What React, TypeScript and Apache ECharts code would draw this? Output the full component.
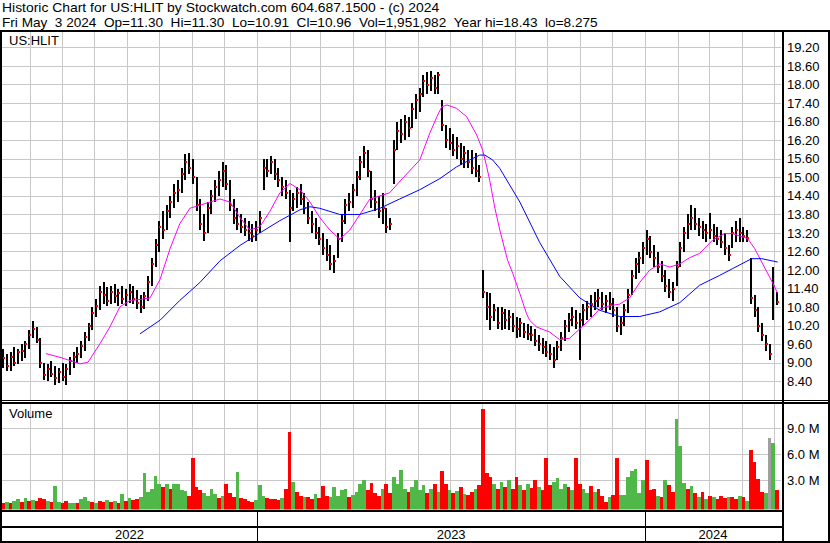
import React, { useEffect, useRef } from "react";
import * as echarts from "echarts";

const FONT = '"Liberation Sans", Arial, Helvetica, sans-serif';
const DAY = 86400000;
const AXIS_START = Date.UTC(2022, 4, 6);
const AXIS_END = AXIS_START + 732.8 * DAY;
const FIRST_BAR_OFFSET_DAYS = 1;
const BAR_STEP_DAYS = 3.5;

const titleLine1 = "Historic Chart for US:HLIT by Stockwatch.com 604.687.1500 - (c) 2024";
const titleLine2 = "Fri May  3 2024  Op=11.30  Hi=11.30  Lo=10.91  Cl=10.96  Vol=1,951,982  Year hi=18.43  lo=8.275";
const symbolLabel = "US:HLIT";
const volumeLabel = "Volume";

// price bars (high / low / close), sampled every ~3.5 calendar days
const highs = [
  9.45, 9.3, 9.35, 9.5, 9.45, 9.6, 9.7, 10.05, 10.35, 10.15,
  9.8, 9.0, 8.95, 9.05, 8.9, 8.85, 9.0, 8.95, 9.2, 9.35,
  9.5, 9.7, 10.0, 10.3, 10.8, 11.05, 11.5, 11.6, 11.45, 11.5,
  11.55, 11.4, 11.5, 11.4, 11.55, 11.5, 11.35, 11.2, 11.3, 11.8,
  12.4, 13.0, 13.6, 13.9, 14.1, 14.4, 14.8, 14.9, 15.3, 15.75,
  15.8, 15.6, 15.0, 14.3, 13.8, 14.2, 14.6, 14.9, 15.2, 15.5,
  15.4, 14.9, 14.3, 14.0, 13.8, 13.7, 13.6, 13.5, 13.6, 13.9,
  15.6, 15.6, 15.7, 15.6, 15.3, 15.0, 14.9, 14.6, 14.5, 14.7,
  14.8, 14.5, 14.2, 13.9, 13.7, 13.4, 13.2, 13.0, 12.8, 12.5,
  13.2, 13.8, 14.3, 14.5, 14.8, 15.2, 15.7, 16.0, 15.9, 15.2,
  14.6, 14.4, 14.5, 14.0, 13.7, 16.2, 16.8, 16.9, 17.0, 16.95,
  17.4, 17.7, 17.9, 18.3, 18.4, 18.43, 18.3, 18.4, 17.5, 16.7,
  16.6, 16.4, 16.3, 16.1, 16.0, 15.9, 15.9, 15.8, 15.4, 12.0,
  11.3, 11.25, 10.9, 10.8, 10.8, 10.75, 10.7, 10.6, 10.5, 10.45,
  10.3, 10.25, 10.2, 10.1, 9.9, 9.8, 9.7, 9.6, 9.5, 9.7,
  10.0, 10.4, 10.6, 10.8, 10.7, 10.6, 10.9, 11.0, 11.2, 11.3,
  11.4, 11.3, 11.2, 11.3, 11.1, 10.8, 10.5, 10.9, 11.4, 12.0,
  12.4, 12.6, 12.9, 13.3, 13.1, 12.8, 12.6, 12.3, 12.0, 11.7,
  11.6, 12.3, 12.9, 13.4, 13.8, 14.1, 14.0, 13.7, 13.6, 13.5,
  13.84, 13.5, 13.4, 13.3, 13.2, 12.8, 13.4, 13.6, 13.68, 13.4,
  13.3, 12.4, 11.2, 10.8, 10.3, 9.9, 9.6, 12.1, 11.3,
];
const lows = [
  8.85, 8.75, 8.75, 8.9, 8.95, 9.05, 9.15, 9.45, 9.8, 9.65,
  8.85, 8.45, 8.4, 8.55, 8.3, 8.35, 8.4, 8.3, 8.6, 8.85,
  9.0, 9.15, 9.4, 9.7, 10.05, 10.5, 10.7, 10.9, 10.85, 10.9,
  10.95, 10.85, 10.9, 10.85, 10.95, 10.9, 10.75, 10.6, 10.75, 11.0,
  11.5, 12.1, 12.6, 13.0, 13.3, 13.7, 14.0, 14.2, 14.5, 14.9,
  15.1, 14.8, 13.9, 13.3, 12.95, 13.2, 13.8, 14.2, 14.4, 14.7,
  14.6, 13.9, 13.5, 13.3, 13.2, 13.1, 12.95, 12.9, 12.95, 13.2,
  14.6, 15.0, 15.1, 14.9, 14.7, 14.4, 14.3, 12.9, 13.9, 14.0,
  14.1, 13.8, 13.5, 13.2, 13.0, 12.8, 12.5, 12.3, 12.0, 11.9,
  12.4, 12.9, 13.5, 13.9, 14.0, 14.4, 14.9, 15.3, 15.0, 14.0,
  13.9, 13.7, 13.5, 13.2, 13.3, 14.8, 15.9, 16.1, 16.2, 16.3,
  16.6, 16.9, 17.1, 17.6, 17.7, 17.8, 17.7, 17.7, 16.5, 15.95,
  15.9, 15.7, 15.6, 15.4, 15.3, 15.3, 15.1, 15.0, 14.85, 11.1,
  10.4, 10.05, 10.35, 10.1, 10.05, 10.1, 10.05, 10.0, 9.8, 9.85,
  9.8, 9.75, 9.7, 9.55, 9.4, 9.3, 9.2, 9.1, 8.85, 9.1,
  9.4, 9.7, 10.0, 10.2, 10.1, 9.1, 10.2, 10.4, 10.5, 10.7,
  10.8, 10.7, 10.6, 10.7, 10.5, 10.0, 9.9, 10.2, 10.6, 11.2,
  11.7, 11.9, 12.2, 12.5, 12.4, 12.1, 11.9, 11.6, 11.3, 11.1,
  11.0, 11.5, 12.1, 12.6, 13.0, 13.3, 13.3, 13.1, 13.0, 12.9,
  13.0, 12.9, 12.8, 12.7, 12.5, 12.3, 12.7, 12.9, 12.9, 12.9,
  12.9, 10.9, 10.5, 10.0, 9.7, 9.4, 9.1, 10.4, 10.86,
];
const closes = [
  9.15, 8.9, 9.2, 9.0, 9.35, 9.4, 9.6, 9.9, 10.1, 9.75,
  9.0, 8.6, 8.8, 8.65, 8.5, 8.7, 8.55, 8.8, 9.05, 9.2,
  9.3, 9.55, 9.85, 10.2, 10.6, 10.85, 11.3, 11.2, 11.0, 11.3,
  11.15, 11.25, 11.05, 11.2, 11.3, 11.05, 10.95, 10.8, 11.15, 11.6,
  12.2, 12.8, 13.4, 13.3, 13.9, 14.2, 14.5, 14.6, 15.1, 15.5,
  15.3, 15.0, 14.1, 13.5, 13.2, 14.0, 14.4, 14.7, 14.9, 15.2,
  14.8, 14.1, 13.7, 13.5, 13.4, 13.3, 13.2, 13.1, 13.3, 13.7,
  15.3, 15.2, 15.5, 15.1, 14.9, 14.7, 14.5, 14.0, 14.3, 14.5,
  14.3, 14.0, 13.7, 13.5, 13.2, 13.0, 12.7, 12.5, 12.2, 12.3,
  13.0, 13.6, 14.1, 14.2, 14.6, 15.0, 15.5, 15.8, 15.2, 14.3,
  14.2, 13.9, 14.0, 13.4, 13.5, 15.9, 16.5, 16.4, 16.8, 16.6,
  17.2, 17.5, 17.7, 18.1, 18.0, 18.2, 17.9, 18.3, 16.7, 16.2,
  16.1, 15.9, 16.0, 15.6, 15.8, 15.5, 15.3, 15.2, 15.0, 11.3,
  10.8, 10.5, 10.7, 10.3, 10.6, 10.4, 10.5, 10.2, 10.1, 10.3,
  10.0, 9.95, 9.9, 9.7, 9.6, 9.5, 9.35, 9.3, 9.1, 9.5,
  9.8, 10.2, 10.4, 10.5, 10.3, 10.4, 10.7, 10.8, 10.9, 11.0,
  11.1, 10.9, 11.0, 10.9, 10.7, 10.2, 10.3, 10.7, 11.2, 11.8,
  12.2, 12.4, 12.7, 13.0, 12.6, 12.4, 12.1, 11.8, 11.5, 11.3,
  11.4, 12.1, 12.7, 13.2, 13.5, 13.7, 13.5, 13.4, 13.3, 13.2,
  13.3, 13.1, 13.0, 12.9, 12.7, 12.5, 13.2, 13.3, 13.2, 13.1,
  13.05, 11.1, 10.7, 10.2, 9.9, 9.6, 9.3, 11.5, 10.96,
];
// volume in millions, colour: g = up, r = down, n = unchanged
const volumes = [
  0.4, 0.5, 0.3, 0.6, 0.8, 0.5, 0.9, 0.6, 0.7, 0.6,
  0.9, 0.8, 0.6, 0.5, 2.3, 0.5, 0.4, 0.6, 0.4, 0.3,
  0.4, 0.8, 1.0, 0.6, 0.5, 0.4, 0.6, 0.5, 0.7, 0.5,
  0.6, 0.4, 1.4, 0.6, 0.9, 0.7, 0.8, 1.0, 3.8, 1.6,
  2.0, 3.5, 2.6, 2.2, 2.5, 2.0, 2.6, 2.5, 1.8, 1.7,
  1.2, 5.5, 2.2, 1.9, 1.5, 1.2, 2.0, 1.4, 0.9, 1.2,
  2.5, 1.5, 1.0, 3.9, 0.9, 0.8, 0.6, 0.5, 0.7, 2.4,
  1.2, 0.9, 0.8, 0.8, 0.7, 0.9, 2.0, 8.5, 2.8, 1.6,
  1.2, 1.0, 1.0, 0.8, 1.4, 0.9, 2.3, 1.2, 1.0, 2.2,
  1.2, 1.8, 2.0, 1.0, 1.3, 1.6, 2.6, 3.0, 1.8, 2.7,
  1.5, 1.2, 2.0, 2.5, 1.5, 3.4, 2.5, 4.2, 2.0, 1.6,
  2.2, 3.0, 1.8, 2.4, 1.5, 2.0, 2.5, 1.6, 4.0, 2.5,
  1.8, 1.5, 1.7, 2.2, 1.4, 1.3, 1.6, 2.0, 2.4, 11.2,
  3.8, 3.4, 2.5, 2.0, 2.8, 2.2, 3.0, 2.0, 3.4, 2.4,
  1.8, 2.6, 2.1, 3.0, 2.2, 1.8, 5.5, 2.4, 2.8, 3.2,
  2.0, 2.6, 2.2, 1.8, 5.6, 2.5, 2.0, 1.5, 2.3, 1.6,
  2.0, 1.2, 0.5, 1.0, 1.3, 5.6, 1.3, 1.3, 3.4, 4.0,
  4.3, 1.5, 3.0, 5.3, 1.8, 2.0, 1.2, 1.0, 3.0, 2.4,
  1.6, 10.0, 6.9, 2.7, 2.0, 2.3, 1.5, 1.0, 1.6, 0.8,
  1.2, 1.0, 0.8, 1.2, 0.9, 1.0, 1.1, 0.8, 1.2, 1.0,
  0.6, 6.5, 5.1, 3.1, 1.6, 1.5, 7.9, 7.3, 1.8,
];
const volumeColors =
  "rgrggrgrgr" + "rrgrggrrgg" + "rgggrgrrgr" + "grgrgrrggg" + "gggrgrgggg" +
  "rrrrggggrg" + "rrrgrrrrgg" + "grrrrgrrgr" + "rgrrgrrrgg" + "gggrggggrr" +
  "rrgrrggggr" + "ggggrgrgrr" + "grgrgrrgrr" + "rrgrgrgrrg" + "rgrrgrrrgg" +
  "ggrgrrggrg" + "rrrgrrgggg" + "gggrrrgrgr" + "rgggrgrgrg" + "rgrrrgrrgr" +
  "grrrrgngr";

// moving averages: [bar position, price]
const fastMA: [number, number][] = [
  [11.5, 9.3], [15.3, 9.18], [20.7, 8.97], [22.8, 9.02], [26.1, 9.63], [28.7, 10.16],
  [31.4, 10.81], [34.1, 11.02], [36.8, 11.05], [39.5, 11.1], [42.2, 11.7], [44.9, 12.7],
  [47.5, 13.5], [50.2, 14.0], [52.9, 14.1], [55.6, 14.2], [58.3, 14.3], [61.0, 14.2],
  [63.7, 13.7], [66.3, 13.3], [69.0, 13.4], [71.7, 13.9], [74.4, 14.5], [77.1, 14.8],
  [79.8, 14.6], [82.5, 14.2], [85.1, 13.7], [87.8, 13.3], [90.5, 13.0], [93.2, 13.3],
  [95.9, 13.8], [98.6, 14.3], [101.3, 14.4], [103.9, 14.5], [107.4, 14.97], [112.0, 15.56],
  [114.7, 16.43], [116.6, 16.96], [117.9, 17.28], [119.3, 17.34], [121.9, 17.23], [124.6, 16.96],
  [127.3, 16.37], [128.9, 15.88], [130.0, 15.34], [130.8, 14.9], [132.2, 14.0], [133.5, 13.3],
  [135.6, 12.32], [137.0, 11.89], [138.9, 11.24], [140.7, 10.59], [141.5, 10.38], [143.4, 10.16],
  [146.9, 10.0], [149.6, 9.75], [152.3, 9.8], [155.0, 10.1], [157.7, 10.4], [160.4, 10.75],
  [163.1, 10.85], [165.7, 10.9], [168.4, 11.1], [171.1, 11.6], [173.8, 12.0], [176.5, 12.2],
  [179.2, 12.1], [181.9, 12.2], [184.5, 12.4], [187.2, 12.54], [190.7, 12.97], [193.9, 13.18],
  [196.1, 13.18], [200.1, 13.02], [202.0, 12.7], [203.9, 12.26], [206.0, 11.78], [207.4, 11.45],
  [208.2, 11.24],
];
const slowMA: [number, number][] = [
  [36.8, 9.94], [42.2, 10.38], [47.5, 11.02], [52.9, 11.6], [58.3, 12.3], [63.7, 12.8],
  [69.0, 13.2], [74.4, 13.6], [79.8, 13.95], [82.5, 14.05], [85.1, 14.0], [90.5, 13.8],
  [95.9, 13.8], [101.3, 14.0], [106.6, 14.3], [112.0, 14.6], [117.4, 14.96], [121.9, 15.34],
  [125.4, 15.56], [128.1, 15.72], [129.5, 15.72], [131.6, 15.56], [133.5, 15.29], [138.9, 14.2],
  [144.2, 12.9], [149.6, 11.8], [155.0, 11.1], [160.4, 10.7], [165.7, 10.5], [171.1, 10.5],
  [176.5, 10.65], [181.9, 10.95], [187.2, 11.51], [192.6, 11.83], [196.1, 12.05], [201.2, 12.37],
  [203.9, 12.37], [208.2, 12.26],
];

const priceAxis = { min: 7.8, max: 19.7, interval: 0.6 };
const volumeAxis = { min: -0.4, max: 11.9 };
const volumeGridValues = [3, 6, 9];
const monthStarts = [
  "2022-06", "2022-07", "2022-08", "2022-09", "2022-10", "2022-11", "2022-12",
  "2023-01", "2023-02", "2023-03", "2023-04", "2023-05", "2023-06", "2023-07",
  "2023-08", "2023-09", "2023-10", "2023-11", "2023-12", "2024-01", "2024-02",
  "2024-03", "2024-04", "2024-05",
];
const years = ["2022", "2023", "2024"];

const barTime = (i: number) => AXIS_START + (FIRST_BAR_OFFSET_DAYS + i * BAR_STEP_DAYS) * DAY;
const monthTime = (s: string) => {
  const [y, m] = s.split("-").map(Number);
  return Date.UTC(y, m - 1, 1);
};
const nb = (s: string) => s.replace(/  /g, " \u00a0");

const GREEN = "#50b848";
const RED = "#ff0000";
const GRAY = "#a0a0a0";
const GRID = "#c8c8c8";

function buildOption() {
  const ohlcData = highs.map((h, i) => [barTime(i), h, lows[i], closes[i]]);
  const volData = volumes.map((v, i) => {
    const c = volumeColors[i];
    return [barTime(i), v, c === "g" ? 1 : c === "r" ? -1 : 0];
  });
  const monthData = monthStarts.map((m) => [monthTime(m), 0]);
  const yearData = years.map((y) => [Date.UTC(+y, 0, 1), Date.UTC(+y + 1, 0, 1)]);

  const vGridRender = (params: any, api: any) => {
    const cs = params.coordSys;
    const x = Math.round(api.coord([api.value(0), 0])[0]) + 0.5;
    return {
      type: "line",
      shape: { x1: x, y1: cs.y, x2: x, y2: cs.y + cs.height },
      style: { stroke: GRID, lineWidth: 1 },
    };
  };

  const frame = (x: number, y: number, w: number, h: number) => ({
    type: "rect",
    z: 100,
    silent: true,
    shape: { x, y, width: w, height: h },
    style: { fill: "#000" },
  });
  const label = (x: number, y: number, text: string, scaleX = 1) => ({
    type: "text",
    z: 100,
    silent: true,
    x,
    y,
    scaleX,
    style: { x: 0, y: 0, text, font: `13px ${FONT}`, fill: "#000", verticalAlign: "middle", align: "left" },
  });

  return {
    animation: false,
    backgroundColor: "#ffffff",
    grid: [
      { left: 2, top: 32, width: 779, height: 368, containLabel: false, outerBoundsMode: "none" },
      { left: 2, top: 403, width: 779, height: 106.5, containLabel: false, outerBoundsMode: "none" },
      { left: 2, top: 527, width: 779, height: 14, containLabel: false, outerBoundsMode: "none" },
    ],
    xAxis: [0, 1, 2].map((g) => ({
      type: "time",
      gridIndex: g,
      min: AXIS_START,
      max: AXIS_END,
      show: false,
    })),
    yAxis: [
      {
        type: "value",
        gridIndex: 0,
        position: "right",
        min: priceAxis.min,
        max: priceAxis.max,
        interval: priceAxis.interval,
        axisLine: { show: false },
        axisTick: { show: false },
        splitLine: { show: true, showMinLine: false, showMaxLine: false, lineStyle: { color: GRID, width: 1 } },
        axisLabel: {
          margin: 6,
          color: "#000",
          fontSize: 13,
          fontFamily: FONT,
          showMinLabel: false,
          showMaxLabel: false,
          formatter: (v: number) => v.toFixed(2),
        },
      },
      {
        type: "value",
        gridIndex: 1,
        position: "right",
        min: volumeAxis.min,
        max: volumeAxis.max,
        splitNumber: 4,
        axisLine: { show: false },
        axisTick: { show: false },
        splitLine: { show: false },
        axisLabel: {
          margin: 6,
          color: "#000",
          fontSize: 13,
          fontFamily: FONT,
          showMinLabel: false,
          showMaxLabel: false,
          formatter: (v: number) =>
            volumeGridValues.some((g) => Math.abs(g - v) < 1e-6) ? `${v.toFixed(1)} M` : "",
        },
      },
      { type: "value", gridIndex: 2, min: 0, max: 1, show: false },
    ],
    series: [
      {
        type: "custom",
        xAxisIndex: 0,
        yAxisIndex: 0,
        z: 1,
        silent: true,
        encode: { x: 0, y: 1 },
        data: monthData,
        renderItem: vGridRender,
      },
      {
        type: "custom",
        xAxisIndex: 1,
        yAxisIndex: 1,
        z: 1,
        silent: true,
        encode: { x: 0, y: 1 },
        data: monthData,
        renderItem: vGridRender,
      },
      {
        type: "custom",
        xAxisIndex: 1,
        yAxisIndex: 1,
        z: 1,
        silent: true,
        encode: { x: 0, y: 1 },
        data: volumeGridValues.map((v) => [AXIS_START, v]),
        renderItem: (params: any, api: any) => {
          const cs = params.coordSys;
          const y = Math.round(api.coord([api.value(0), api.value(1)])[1]) + 0.5;
          return {
            type: "line",
            shape: { x1: cs.x, y1: y, x2: cs.x + cs.width, y2: y },
            style: { stroke: GRID, lineWidth: 1 },
          };
        },
      },
      {
        type: "custom",
        name: "price",
        xAxisIndex: 0,
        yAxisIndex: 0,
        z: 3,
        silent: true,
        encode: { x: 0, y: [1, 2, 3] },
        data: ohlcData,
        renderItem: (params: any, api: any) => {
          const t = api.value(0);
          const hi = api.coord([t, api.value(1)]);
          const lo = api.coord([t, api.value(2)]);
          const cl = api.coord([t, api.value(3)]);
          const x = Math.round(hi[0]);
          const y1 = Math.round(hi[1]);
          const y2 = Math.round(lo[1]);
          return {
            type: "group",
            children: [
              { type: "rect", shape: { x: x - 1, y: y1, width: 2, height: Math.max(1, y2 - y1) }, style: { fill: "#000" } },
              { type: "rect", shape: { x: x, y: Math.round(cl[1]) - 1, width: 2, height: 2 }, style: { fill: RED } },
            ],
          };
        },
      },
      {
        type: "line",
        name: "fast MA",
        xAxisIndex: 0,
        yAxisIndex: 0,
        z: 4,
        silent: true,
        symbol: "none",
        lineStyle: { color: "#ff00ff", width: 1 },
        data: fastMA.map(([i, v]) => [barTime(i), v]),
      },
      {
        type: "line",
        name: "slow MA",
        xAxisIndex: 0,
        yAxisIndex: 0,
        z: 4,
        silent: true,
        symbol: "none",
        lineStyle: { color: "#0000ff", width: 1 },
        data: slowMA.map(([i, v]) => [barTime(i), v]),
      },
      {
        type: "custom",
        name: "volume",
        xAxisIndex: 1,
        yAxisIndex: 1,
        z: 3,
        silent: true,
        encode: { x: 0, y: 1 },
        data: volData,
        renderItem: (params: any, api: any) => {
          const cs = params.coordSys;
          const t = api.value(0);
          const top = api.coord([t, api.value(1)]);
          const next = api.coord([t + BAR_STEP_DAYS * DAY, api.value(1)]);
          const w = next[0] - top[0];
          const x0 = Math.round(top[0] - w / 2);
          const x1 = Math.round(top[0] + w / 2);
          const bottom = cs.y + cs.height;
          const c = api.value(2);
          return {
            type: "rect",
            shape: { x: x0, y: Math.round(top[1]), width: Math.max(1, x1 - x0), height: bottom - Math.round(top[1]) },
            style: { fill: c > 0 ? GREEN : c < 0 ? RED : GRAY },
          };
        },
      },
      {
        type: "custom",
        name: "years",
        xAxisIndex: 2,
        yAxisIndex: 2,
        silent: true,
        encode: { x: 0, y: 1 },
        data: yearData,
        renderItem: (params: any, api: any) => {
          const cs = params.coordSys;
          let x0 = api.coord([api.value(0), 0])[0];
          let x1 = api.coord([api.value(1), 0])[0];
          const startsInside = x0 > cs.x + 1;
          x0 = Math.max(x0, cs.x);
          x1 = Math.min(x1, cs.x + cs.width);
          const children: any[] = [
            {
              type: "text",
              style: {
                x: (x0 + x1) / 2,
                y: cs.y + cs.height / 2,
                text: years[params.dataIndex],
                font: `13px ${FONT}`,
                fill: "#000",
                align: "center",
                verticalAlign: "middle",
              },
            },
          ];
          if (startsInside) {
            const xl = Math.round(x0) + 0.5;
            children.push({
              type: "line",
              shape: { x1: xl, y1: cs.y - 16, x2: xl, y2: cs.y + cs.height },
              style: { stroke: "#000", lineWidth: 1 },
            });
          }
          return { type: "group", children };
        },
      },
    ],
    graphic: [
      frame(0, 30, 830, 2),
      frame(0, 30, 2, 513),
      frame(828, 30, 2, 513),
      frame(782, 30, 2, 513),
      frame(0, 400, 830, 1),
      frame(0, 402, 830, 2),
      frame(0, 510, 784, 2),
      frame(0, 526, 784, 2),
      frame(0, 541, 830, 2),
      label(2, 7.5, titleLine1, 1.071),
      label(2, 22.5, nb(titleLine2), 1.046),
      label(9, 40.5, symbolLabel),
      label(9, 413, volumeLabel),
    ],
  };
}

export default function App() {
  const ref = useRef<HTMLDivElement>(null);
  useEffect(() => {
    if (!ref.current) return;
    const chart = echarts.init(ref.current, undefined, { renderer: "svg" });
    chart.setOption(buildOption() as any);
    return () => chart.dispose();
  }, []);
  return (
    <div
      ref={ref}
      style={{ position: "absolute", left: 0, top: 0, width: 830, height: 543, background: "#fff" }}
    />
  );
}
